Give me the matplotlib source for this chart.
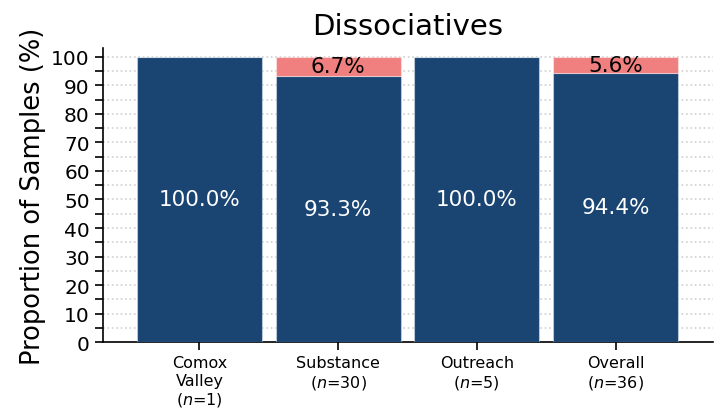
import matplotlib
matplotlib.use("Agg")
import matplotlib.pyplot as plt
import numpy as np

categories = ["Comox\nValley\n($n$=1)", "Substance\n($n$=30)", "Outreach\n($n$=5)", "Overall\n($n$=36)"]
negative = [100.0, 93.3, 100.0, 94.4]
positive = [0.0, 6.7, 0.0, 5.6]
navy = "#1a4573"
pink = "#f08080"

fig, ax = plt.subplots(figsize=(7.2, 4.1), dpi=100)
fig.subplots_adjust(left=0.143, right=0.99, top=0.88, bottom=0.163)
x = np.arange(len(categories))
ax.bar(x, negative, width=0.9, color=navy, edgecolor=(1, 1, 1, 0.4), linewidth=0.8, zorder=3)
ax.bar(x, positive, width=0.9, bottom=negative, color=pink, edgecolor=(1, 1, 1, 0.4), linewidth=0.8, zorder=3)
for i in range(len(x)):
    if negative[i] > 0:
        ax.text(x[i], negative[i] / 2, f"{negative[i]:.1f}%", ha="center", va="center", color="white", fontsize=15.5, zorder=4)
    if positive[i] > 0:
        ax.text(x[i], negative[i] + positive[i] / 2, f"{positive[i]:.1f}%", ha="center", va="center", color="black", fontsize=15.5, zorder=4)

ax.set_xlim(-0.695, 3.7)
ax.set_ylim(0, 103)
ax.set_yticks(np.arange(0, 101, 10))
ax.set_yticks(np.arange(5, 101, 10), minor=True)
ax.tick_params(axis="y", which="both", length=6, width=1.2, labelsize=14.5)
ax.tick_params(axis="x", length=6, width=1.2, labelsize=11.5)
ax.set_xticks(x)
ax.set_xticklabels(categories)
ax.yaxis.grid(True, which="both", linestyle=":", color="#d0d0d0", linewidth=1.2, zorder=0)
ax.set_axisbelow(True)
for s in ["top", "right"]:
    ax.spines[s].set_visible(False)
ax.spines["left"].set_linewidth(1.2)
ax.spines["bottom"].set_linewidth(1.2)
ax.set_ylabel("Proportion of Samples (%)", fontsize=18.5)
ax.set_title("Dissociatives", fontsize=21, pad=10)
fig.savefig("out.png")
